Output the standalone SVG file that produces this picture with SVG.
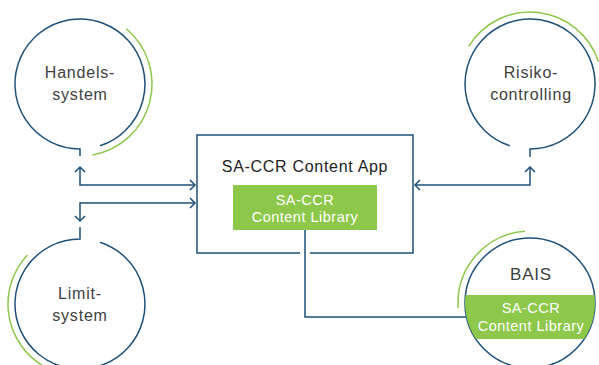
<svg xmlns="http://www.w3.org/2000/svg" width="599" height="365" viewBox="0 0 599 365">
<defs>
<style>
.b{fill:none;stroke:#1d5079;stroke-width:1.5}
.g{fill:none;stroke:#8dc84a;stroke-width:1.5}
.t{font-family:"Liberation Sans",Arial,sans-serif;font-size:16px;letter-spacing:0.8px;fill:#404040;text-anchor:middle}
.h{font-family:"Liberation Sans",Arial,sans-serif;font-size:16px;letter-spacing:0.7px;fill:#222;text-anchor:middle}
.w{font-family:"Liberation Sans",Arial,sans-serif;font-size:14.5px;letter-spacing:0.5px;fill:#fff;text-anchor:middle}
</style>
<marker id="ah" markerUnits="userSpaceOnUse" markerWidth="14" markerHeight="14" viewBox="-7 -7 14 14" refX="0" refY="0" orient="auto-start-reverse">
<path d="M-5,-5 L0,0 L-5,5" fill="none" stroke="#1d5079" stroke-width="1.5"/>
</marker>
<clipPath id="bc"><circle cx="530" cy="303" r="65"/></clipPath>
</defs>
<rect width="599" height="365" fill="#fff"/>
<g id="connectors">
<path class="b" d="M80,167 V185 H195" marker-start="url(#ah)" marker-end="url(#ah)"/>
<path class="b" d="M80,221 V203 H195" marker-start="url(#ah)" marker-end="url(#ah)"/>
<path class="b" d="M530,167 V185 H415" marker-start="url(#ah)" marker-end="url(#ah)"/>
<path class="b" d="M305,230 V317 H466"/>
</g>
<g id="handelssystem">
<path class="b" d="M80,156 V149 A65,65 0 1,1 100.1,145.8"/>
<path class="g" d="M126.3,28.8 A72,72 0 0,1 92.5,154.9"/>
<text class="t" x="80" y="78">Handels-</text>
<text class="t" x="80" y="100">system</text>
</g>
<g id="limitsystem">
<path class="b" d="M80,227 V239 A65,65 0 1,0 100.1,242.2"/>
<path class="g" d="M27.4,254.9 A72,72 0 0,0 44,366.4"/>
<text class="t" x="80" y="299">Limit-</text>
<text class="t" x="80" y="321">system</text>
</g>
<g id="risikocontrolling">
<path class="b" d="M530,157 V149 A65,65 0 1,0 509.9,145.8"/>
<path class="g" d="M468.6,46.4 A72,72 0 0,1 598.5,61.8"/>
<text class="t" x="531" y="78">Risiko-</text>
<text class="t" x="531" y="100">controlling</text>
</g>
<g id="app">
<path class="b" d="M300,253 H197 V135 H413 V253 H310"/>
<text class="h" x="305" y="171.5">SA-CCR Content App</text>
<rect x="233" y="185" width="144" height="45" fill="#8dc84a"/>
<text class="w" x="305" y="204.5">SA-CCR</text>
<text class="w" x="305" y="222">Content Library</text>
</g>
<g id="bais">
<circle class="b" cx="530" cy="303" r="65"/>
<rect x="460" y="295" width="140" height="44" fill="#8dc84a" clip-path="url(#bc)"/>
<path class="g" d="M525,231.2 A72,72 0 0,0 458.2,308"/>
<text class="t" x="531" y="280" style="font-size:17px">BAIS</text>
<text class="w" x="531" y="313">SA-CCR</text>
<text class="w" x="531" y="331">Content Library</text>
</g>
</svg>
